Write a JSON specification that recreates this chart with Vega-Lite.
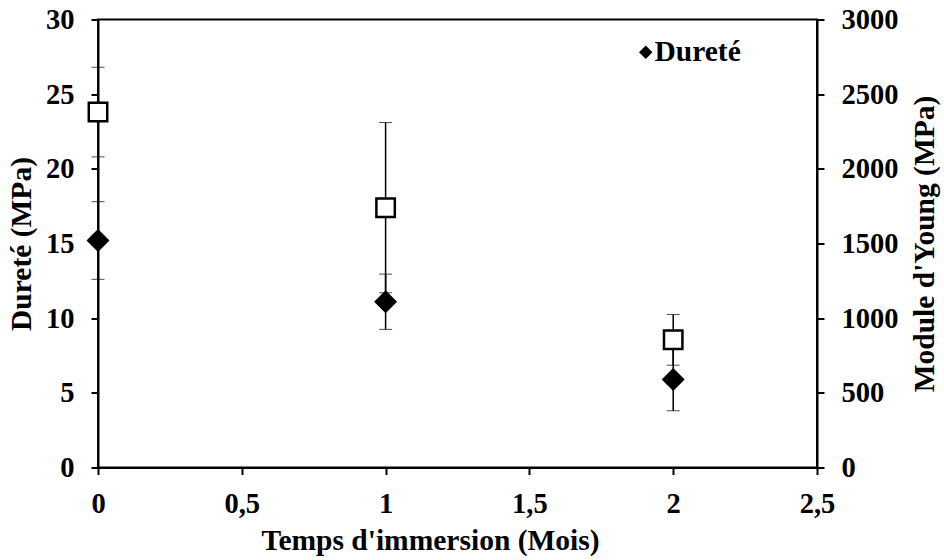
{
  "$schema": "https://vega.github.io/schema/vega-lite/v6.json",
  "width": 719,
  "height": 448,
  "autosize": {"type": "none"},
  "padding": {"left": 98, "top": 19.5, "right": 127, "bottom": 92.5},
  "background": "white",
  "config": {
    "view": {"stroke": "black", "strokeWidth": 2},
    "axis": {
      "domainColor": "black", "domainWidth": 2,
      "tickColor": "black", "tickWidth": 2, "tickSize": 7,
      "grid": false, "labelFlush": false, "labelOverlap": false,
      "labelFont": "Liberation Serif", "labelFontWeight": "bold", "labelFontSize": 28.5, "labelColor": "black",
      "titleFont": "Liberation Serif", "titleFontWeight": "bold", "titleFontSize": 29.5, "titleColor": "black",
      "labelPadding": 17
    }
  },
  "data": {
    "values": [
      {"t": 0, "durete": 15.2, "durete_err": 2.6, "young": 2380, "young_err": 300},
      {"t": 1, "durete": 11.1, "durete_err": 1.85, "young": 1740, "young_err": 570},
      {"t": 2, "durete": 5.9, "durete_err": 2.1, "young": 855, "young_err": 170}
    ]
  },
  "layer": [
    {
      "layer": [
        {
          "mark": {"type": "errorbar", "color": "black", "ticks": {"size": 13, "strokeWidth": 1.5}, "rule": {"strokeWidth": 1.5}},
          "encoding": {
            "x": {"field": "t", "type": "quantitative", "scale": {"domain": [0, 2.5], "nice": false},
              "axis": {"title": "Temps d'immersion (Mois)", "values": [0, 0.5, 1, 1.5, 2, 2.5], "labelExpr": "replace(format(datum.value, '~g'), '.', ',')", "labelPadding": 15, "titlePadding": 8, "titleX": 332}},
            "y": {"field": "durete", "type": "quantitative", "scale": {"domain": [0, 30], "nice": false},
              "axis": {"title": "Dureté (MPa)", "values": [0, 5, 10, 15, 20, 25, 30], "titlePadding": 9}},
            "yError": {"field": "durete_err"}
          }
        },
        {
          "mark": {"type": "point", "filled": true, "shape": "diamond", "size": 529, "color": "black", "opacity": 1},
          "encoding": {
            "x": {"field": "t", "type": "quantitative", "scale": {"domain": [0, 2.5], "nice": false},
              "axis": {"title": "Temps d'immersion (Mois)", "values": [0, 0.5, 1, 1.5, 2, 2.5], "labelExpr": "replace(format(datum.value, '~g'), '.', ',')", "labelPadding": 15, "titlePadding": 8, "titleX": 332}},
            "y": {"field": "durete", "type": "quantitative", "scale": {"domain": [0, 30], "nice": false},
              "axis": {"title": "Dureté (MPa)", "values": [0, 5, 10, 15, 20, 25, 30], "titlePadding": 9}},
            "shape": {"datum": "Dureté", "type": "nominal", "scale": {"range": ["diamond"]},
              "legend": {"orient": "none", "legendX": 533, "legendY": 18, "title": null,
                "labelFont": "Liberation Serif", "labelFontWeight": "bold", "labelFontSize": 29.5, "labelColor": "black",
                "symbolType": "diamond", "symbolSize": 180, "symbolFillColor": "black", "symbolStrokeColor": "black", "symbolStrokeWidth": 0, "labelOffset": -6}}
          }
        }
      ]
    },
    {
      "layer": [
        {
          "mark": {"type": "errorbar", "color": "black", "ticks": {"size": 13, "strokeWidth": 1.5}, "rule": {"strokeWidth": 1.5}},
          "encoding": {
            "x": {"field": "t", "type": "quantitative", "scale": {"domain": [0, 2.5], "nice": false}},
            "y": {"field": "young", "type": "quantitative", "scale": {"domain": [0, 3000], "nice": false},
              "axis": {"orient": "right", "title": "Module d'Young (MPa)", "format": "d", "values": [0, 500, 1000, 1500, 2000, 2500, 3000], "titleAngle": 270, "titleBaseline": "top", "titlePadding": 12}},
            "yError": {"field": "young_err"}
          }
        },
        {
          "mark": {"type": "point", "shape": "square", "filled": true, "fill": "white", "stroke": "black", "strokeWidth": 2.5, "size": 340, "opacity": 1},
          "encoding": {
            "x": {"field": "t", "type": "quantitative", "scale": {"domain": [0, 2.5], "nice": false}},
            "y": {"field": "young", "type": "quantitative", "scale": {"domain": [0, 3000], "nice": false},
              "axis": {"orient": "right", "title": "Module d'Young (MPa)", "format": "d", "values": [0, 500, 1000, 1500, 2000, 2500, 3000], "titleAngle": 270, "titleBaseline": "top", "titlePadding": 12}}
          }
        }
      ]
    }
  ],
  "resolve": {"scale": {"y": "independent"}}
}
